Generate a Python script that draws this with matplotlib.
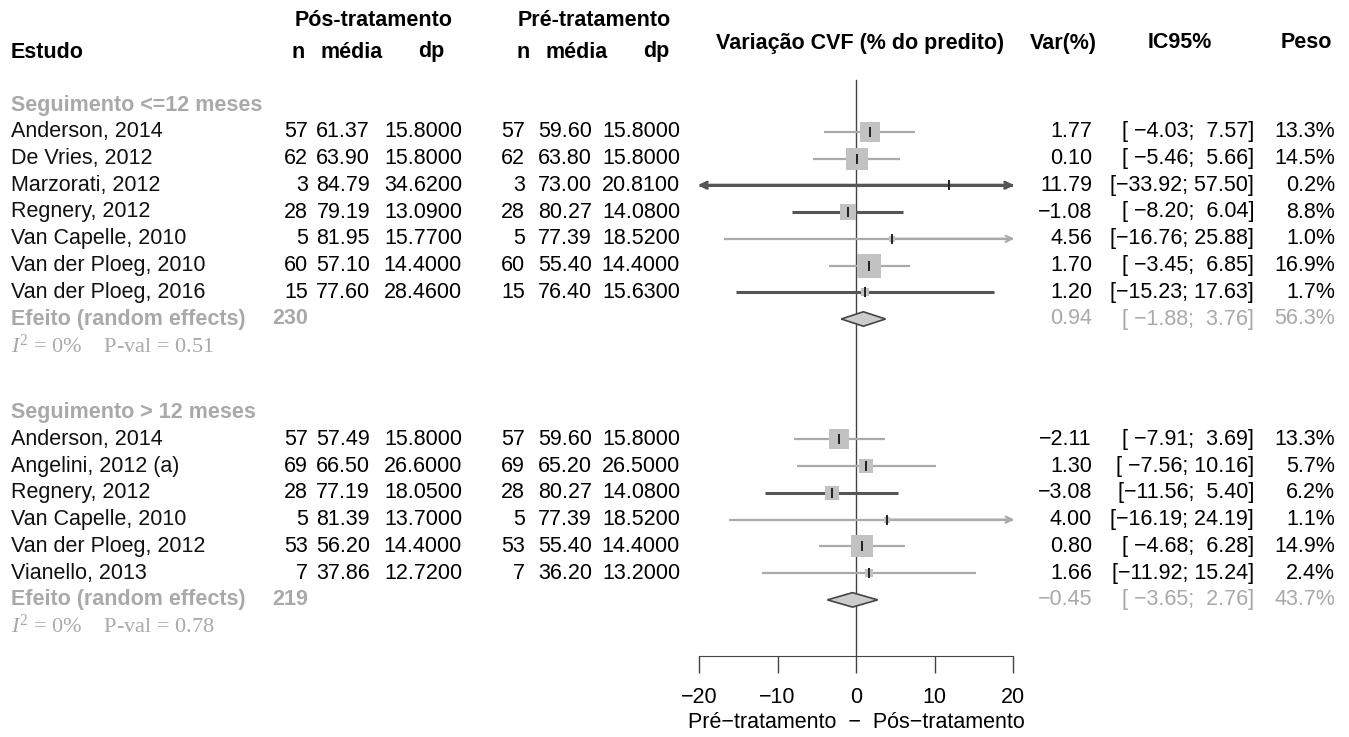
import numpy as np
import matplotlib.pyplot as plt
from matplotlib import transforms
from matplotlib.patches import Polygon

plt.rcParams['font.family'] = ['Liberation Sans', 'DejaVu Sans']
plt.rcParams['mathtext.fontset'] = 'custom'
plt.rcParams['mathtext.rm'] = 'Liberation Serif'
plt.rcParams['mathtext.it'] = 'Liberation Serif:italic'

# ---- data: follow-up <= 12 months
g1_study = ['Anderson, 2014', 'De Vries, 2012', 'Marzorati, 2012', 'Regnery, 2012',
            'Van Capelle, 2010', 'Van der Ploeg, 2010', 'Van der Ploeg, 2016']
g1_n = [57, 62, 3, 28, 5, 60, 15]
g1_post_mean = [61.37, 63.90, 84.79, 79.19, 81.95, 57.10, 77.60]
g1_post_sd = [15.80, 15.80, 34.62, 13.09, 15.77, 14.40, 28.46]
g1_pre_mean = [59.60, 63.80, 73.00, 80.27, 77.39, 55.40, 76.40]
g1_pre_sd = [15.80, 15.80, 20.81, 14.08, 18.52, 14.40, 15.63]
g1_var = [1.77, 0.10, 11.79, -1.08, 4.56, 1.70, 1.20]
g1_lo = [-4.03, -5.46, -33.92, -8.20, -16.76, -3.45, -15.23]
g1_hi = [7.57, 5.66, 57.50, 6.04, 25.88, 6.85, 17.63]
g1_w = [13.3, 14.5, 0.2, 8.8, 1.0, 16.9, 1.7]
g1_total = 230
g1_eff = [0.94, -1.88, 3.76, 56.3]
g1_het = ('0%', '0.51')

# ---- data: follow-up > 12 months
g2_study = ['Anderson, 2014', 'Angelini, 2012 (a)', 'Regnery, 2012', 'Van Capelle, 2010',
            'Van der Ploeg, 2012', 'Vianello, 2013']
g2_n = [57, 69, 28, 5, 53, 7]
g2_post_mean = [57.49, 66.50, 77.19, 81.39, 56.20, 37.86]
g2_post_sd = [15.80, 26.60, 18.05, 13.70, 14.40, 12.72]
g2_pre_mean = [59.60, 65.20, 80.27, 77.39, 55.40, 36.20]
g2_pre_sd = [15.80, 26.50, 14.08, 18.52, 14.40, 13.20]
g2_var = [-2.11, 1.30, -3.08, 4.00, 0.80, 1.66]
g2_lo = [-7.91, -7.56, -11.56, -16.19, -4.68, -11.92]
g2_hi = [3.69, 10.16, 5.40, 24.19, 6.28, 15.24]
g2_w = [13.3, 5.7, 6.2, 1.1, 14.9, 2.4]
g2_total = 219
g2_eff = [-0.45, -3.65, 2.76, 43.7]
g2_het = ('0%', '0.78')

# which CI lines come out darker in the original
g1_dark = [False, False, True, True, False, False, True]
g2_dark = [False, False, True, False, False, False]

xticks = [-20, -10, 0, 10, 20]

W, H = 1349, 737
ROW0, ROWH = 105, 26.75   # pixel y of first row, row height
FS = 15.5
GREY = '#a9a9a9'
DARK = '#444444'


def m(v, fmt='{:.2f}'):
    return fmt.format(v).replace('-', '\u2212')


def ci(lo, hi):
    return m(lo, '[{:6.2f}; ') + m(hi, '{:5.2f}]')


fig = plt.figure(figsize=(W / 100, H / 100), dpi=100)
axis_px = 656
ax = fig.add_axes([699 / W, (H - axis_px) / H, 314 / W, axis_px / H])
ax.set_xlim(-20, 20)
ax.set_ylim((axis_px - ROW0) / ROWH, -ROW0 / ROWH)
for s in ['top', 'left', 'right']:
    ax.spines[s].set_visible(False)
ax.spines['bottom'].set_color(DARK)
ax.set_yticks([])
ax.set_xticks(xticks)
ax.set_xticklabels([m(t, '{:d}') for t in xticks], fontsize=FS)
ax.tick_params(axis='x', direction='out', length=12, width=1, color=DARK, pad=10)
ax.patch.set_alpha(0)

# zero line
ax.plot([0, 0], [(80 - ROW0) / ROWH, ax.get_ylim()[0]], color=DARK, lw=1, zorder=1, clip_on=False)

tr = transforms.blended_transform_factory(fig.transFigure, ax.transData)


def txt(xpx, y, s, ha='right', **kw):
    kw.setdefault('fontsize', FS)
    fig.text(xpx / W, y, s, ha=ha, va='center', transform=tr, **kw)


def head(xpx, ypx, s, ha='center'):
    fig.text(xpx / W, 1 - ypx / H, s, ha=ha, va='center', fontsize=FS, fontweight='bold')


# headers
head(374, 20, 'Pós-tratamento')
head(594, 20, 'Pré-tratamento')
head(11, 52, 'Estudo', 'left')
for x0 in [0, 225]:
    head(305 + x0, 52, 'n', 'right')
    head(352 + x0, 52, 'média')
    head(431 + x0, 52, 'dp')
head(860, 43, 'Variação CVF (% do predito)')
head(1097, 43, 'Var(%)', 'right')
head(1180, 43, 'IC95%')
head(1306, 43, 'Peso')


def draw_group(start, title, study, n, post_m, post_s, pre_m, pre_s, var, lo, hi, w, dark,
               total, eff, het):
    txt(11, start, title, 'left', color=GREY, fontweight='bold')
    for i in range(len(study)):
        y = start + 1 + i
        txt(11, y, study[i], 'left', color='#111111')
        txt(308, y, str(n[i]))
        txt(370, y, m(post_m[i]))
        txt(462, y, m(post_s[i], '{:.4f}'))
        txt(525, y, str(n[i]))
        txt(592, y, m(pre_m[i]))
        txt(680, y, m(pre_s[i], '{:.4f}'))
        txt(1092, y, m(var[i]))
        txt(1254, y, ci(lo[i], hi[i]))
        txt(1335, y, '{:.1f}%'.format(w[i]))

        col = '#555555' if dark[i] else '#aaaaaa'
        lw = 2.2 if dark[i] else 1.6
        a, b = max(lo[i], -20), min(hi[i], 20)
        ax.plot([a, b], [y, y], color=col, lw=lw, zorder=2, solid_capstyle='butt')
        for lim, end in [(lo[i], -20), (hi[i], 20)]:
            if (end < 0 and lim < end) or (end > 0 and lim > end):
                ax.annotate('', xy=(end + np.sign(end) * 0.15, y), xytext=(var[i], y),
                            arrowprops=dict(arrowstyle='->', color=col, lw=lw,
                                            shrinkA=0, shrinkB=0, mutation_scale=11),
                            annotation_clip=False, zorder=2)
        ax.scatter(var[i], y, s=17 * w[i], marker='s', color='#c2c2c2', lw=0, zorder=3)
        ax.plot(var[i], y, marker='|', ms=7, mew=1.4, color='#222222', zorder=4)

    y = start + 1 + len(study)
    txt(11, y, 'Efeito (random effects)', 'left', color=GREY, fontweight='bold')
    txt(308, y, str(total), color=GREY, fontweight='bold')
    txt(1092, y, m(eff[0]), color=GREY)
    txt(1254, y, ci(eff[1], eff[2]), color=GREY)
    txt(1335, y, '{:.1f}%'.format(eff[3]), color=GREY)
    d = 0.27
    ax.add_patch(Polygon([(eff[1], y), (eff[0], y - d), (eff[2], y), (eff[0], y + d)],
                         closed=True, fc='#cccccc', ec=DARK, lw=1.2, zorder=3))
    txt(11, y + 1, r'$I^2$ = ' + het[0] + '    P-val = ' + het[1], 'left',
        color=GREY, family='Liberation Serif', fontsize=16)


draw_group(0, 'Seguimento <=12 meses', g1_study, g1_n, g1_post_mean, g1_post_sd,
           g1_pre_mean, g1_pre_sd, g1_var, g1_lo, g1_hi, g1_w, g1_dark,
           g1_total, g1_eff, g1_het)
draw_group(11.5, 'Seguimento > 12 meses', g2_study, g2_n, g2_post_mean, g2_post_sd,
           g2_pre_mean, g2_pre_sd, g2_var, g2_lo, g2_hi, g2_w, g2_dark,
           g2_total, g2_eff, g2_het)

fig.text(856 / W, 1 - 722 / H, 'Pré\u2212tratamento  \u2212  Pós\u2212tratamento',
         ha='center', va='center', fontsize=FS)

plt.savefig('out.png', dpi=100)
plt.close()
